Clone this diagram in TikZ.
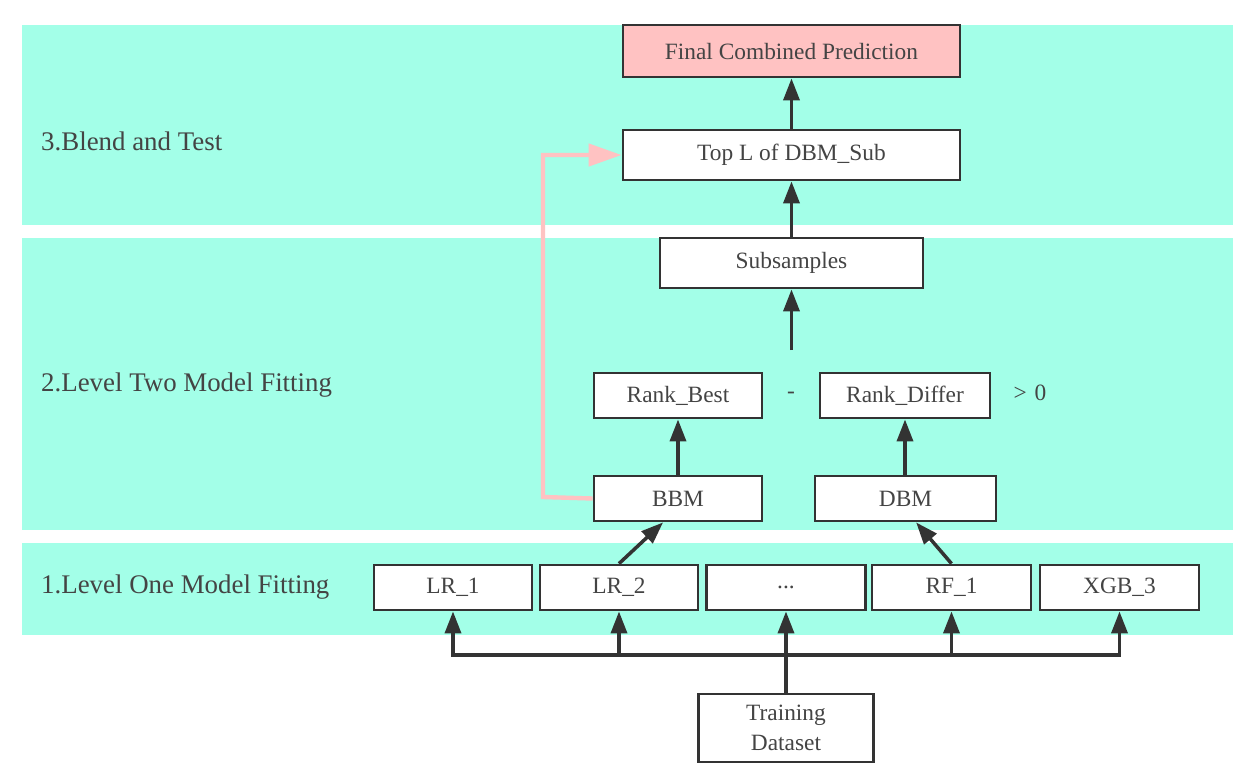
\documentclass[tikz,border=0pt]{standalone}
\usepackage{fontspec}
\setmainfont{Liberation Serif}
\usetikzlibrary{arrows.meta,positioning}

\definecolor{bandcol}{HTML}{A3FFE8}
\definecolor{pinkcol}{HTML}{FFC2C2}
\definecolor{inkcol}{HTML}{333333}
\definecolor{txtcol}{HTML}{444444}

\tikzset{
  band/.style={fill=bandcol, draw=none},
  box/.style={draw=inkcol, line width=1.6pt, fill=white, text=txtcol,
    inner sep=0pt, font=\fontsize{13.3}{16}\selectfont},
  wh/.style 2 args={minimum width=#1*0.02cm, minimum height=#2*0.02cm},
  stage/.style={anchor=west, text=txtcol, font=\fontsize{15.3}{18}\selectfont},
  flow/.style={draw=inkcol, line width=2pt,
    -{Triangle[length=0.44cm,width=0.32cm]}},
  feedback/.style={draw=pinkcol, line width=2.5pt,
    -{Triangle[length=0.66cm,width=0.44cm]}},
}

\begin{document}
\begin{tikzpicture}[x=0.02cm, y=-0.02cm]

\useasboundingbox (0,0) rectangle (1255,779);

%%% bands
\fill[band] (22,25) rectangle (1233,225);
\fill[band] (22,238) rectangle (1233,530);
\fill[band] (22,543) rectangle (1233,635);

\node[stage] (s3) at (35,141) {3.Blend and Test};
\node[stage] (s2) at (35,385) {2.Level Two Model Fitting};
\node[stage] (s1) at (35,587) {1.Level One Model Fitting};

%%% blend
\node[box, wh={337}{52}, fill=pinkcol] (final) at (791.5,51) {Final Combined Prediction};
\node[box, wh={337}{50}] (topl) at (791.5,155) {Top L of DBM\_Sub};
\node[box, wh={263}{50}] (subs) at (791.5,263) {Subsamples};

%%% level two
\node[box, wh={168}{45}] (rbest) at (678,395.5) {Rank\_Best};
\node[box, wh={170}{45}] (rdiff) at (905,395.5) {Rank\_Differ};
\node[text=txtcol, font=\fontsize{13.3}{16}\selectfont] (minus) at (791,395.5) {-};
\node[text=txtcol, font=\fontsize{13.3}{16}\selectfont] (gt) at (1030,393) {>\,\,0};
\node[box, wh={168}{45}] (bbm) at (678,498.5) {BBM};
\node[box, wh={181}{45}] (dbm) at (905.5,498.5) {DBM};

%%% level one
\node[box, wh={158}{45}] (lr1) at (453,587.5) {LR\_1};
\node[box, wh={158}{45}] (lr2) at (619,587.5) {LR\_2};
\node[box, wh={159}{45}] (dots) at (786,587.5) {...};
\node[box, wh={159}{45}] (rf1) at (951.5,587.5) {RF\_1};
\node[box, wh={159}{45}] (xgb) at (1119.5,587.5) {XGB\_3};

\node[box, wh={175}{68}, align=center] (train) at (786,728) {Training\\[1pt]Dataset};

%%% connectors
\coordinate (gap) at (791.5,350);
\coordinate (bus) at (786,655);
\coordinate (bend) at (543,497);

\draw[flow] (topl) -- (final);
\draw[flow] (subs) -- (topl);
\draw[flow] (gap) -- (subs);
\draw[flow] (bbm) -- (rbest);
\draw[flow] (dbm.north -| rdiff) -- (rdiff);
\draw[flow] (lr2.north) -- (bbm.238);
\draw[flow] (rf1.north) -- (dbm.294);

\draw[flow] (train.north) -- (dots.south);
\foreach \m in {lr1,lr2,rf1,xgb}
  \draw[flow] (bus) -| (\m.south);

\draw[feedback] (bbm.west) -- (bend) |- (topl.west);

\end{tikzpicture}
\end{document}
